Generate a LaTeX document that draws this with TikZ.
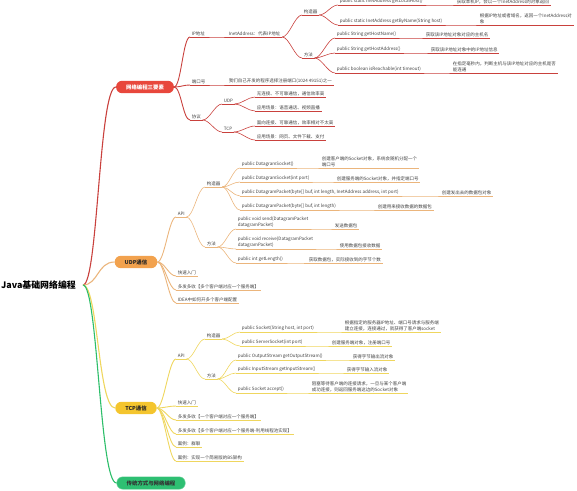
\documentclass[tikz,border=0pt]{standalone}
\usepackage{fontspec}
\setmainfont{Noto Sans CJK SC}
\definecolor{rd}{HTML}{E8473C}
\definecolor{rdl}{HTML}{C9413D}
\definecolor{og}{HTML}{F2A24E}
\definecolor{ogl}{HTML}{EBB57C}
\definecolor{yw}{HTML}{F4C52E}
\definecolor{ywl}{HTML}{EFD65E}
\definecolor{gn}{HTML}{2EBF72}
\definecolor{gnl}{HTML}{2DBE6A}
\tikzset{
  br/.style={to path={.. controls +(7,0) and +(-7,0) .. (\tikztotarget)}},
  main/.style={rounded corners=6pt,inner xsep=10pt,inner ysep=3.6pt,font=\fontsize{5.4}{6}\selectfont\bfseries},
  lf/.style={anchor=south west,inner xsep=1.6pt,inner ysep=1.2pt,align=left,font=\fontsize{4.5}{5.6}\selectfont,text=black!75},
  ur/.style={lf,append after command={(\tikzlastnode.south west) edge[rl] (\tikzlastnode.south east)}},
  uo/.style={lf,append after command={(\tikzlastnode.south west) edge[ol] (\tikzlastnode.south east)}},
  uy/.style={lf,append after command={(\tikzlastnode.south west) edge[yl] (\tikzlastnode.south east)}},
  rl/.style={draw=rdl,line width=.6pt},
  ol/.style={draw=ogl,line width=.6pt},
  yl/.style={draw=ywl,line width=.6pt},
}
\begin{document}
\begin{tikzpicture}[x=1pt,y=-1pt]
\useasboundingbox (0,0) rectangle (577,490);
\node[anchor=east,inner xsep=7pt,font=\fontsize{8.9}{10}\selectfont\bfseries] (root) at (83,285) {Java基础网络编程};
\node[main,fill=rd,text=white] (n1) at (145,87) {网络编程三要素};
\node[main,fill=og,text=black!85] (n2) at (136,262) {UDP通信};
\node[main,fill=yw,text=black!85] (n3) at (136,408) {TCP通信};
\node[main,fill=gn,draw=gn!60,text=black!80] (n4) at (151,483) {传统方式与网络编程};
\draw[rdl,line width=1.1pt] (root.east) .. controls +(15,0) and +(-17,0) .. (n1.west);
\draw[ogl,line width=1.1pt] (root.east) .. controls +(15,0) and +(-17,0) .. (n2.west);
\draw[ywl,line width=1.1pt] (root.east) .. controls +(15,0) and +(-17,0) .. (n3.west);
\draw[gnl,line width=1.1pt] (root.east) .. controls +(15,0) and +(-17,0) .. (n4.west);

\node[ur] (ip) at (190,37) {IP地址};
\node[ur] (inet) at (227,37) {InetAddress：代表IP地址};
\node[ur] (gz1) at (302,15) {构造器};
\node[ur] (ff1) at (302,58) {方法};
\node[ur] (m1) at (338,5) {public static InetAddress getLocalHost()};
\node[ur] (d1) at (455,5) {获取本机IP，会以一个InetAddress的对象返回};
\node[ur] (m2) at (338,25) {public static InetAddress getByName(String host)};
\node[ur] (d2) at (478,25) {根据IP地址或者域名，返回一个InetAddress对\\象};
\node[ur] (m3) at (335,38) {public String getHostName()};
\node[ur] (d3) at (424,38) {获取该IP地址对象对应的主机名};
\node[ur] (m4) at (335,53) {public String getHostAddress()};
\node[ur] (d4) at (429,53) {获取该IP地址对象中的IP地址信息};
\node[ur] (m5) at (335,73) {public boolean isReachable(int timeout)};
\node[ur] (d5) at (451,73) {在指定毫秒内，判断主机与该IP地址对应的主机是否\\能连通};
\node[ur] (dk) at (190,85) {端口号};
\node[ur] (dkd) at (227,85) {我们自己开发的程序选择注册端口(1024~49151)之一};
\node[ur] (xy) at (190,120) {协议};
\node[ur] (udp) at (222,104) {UDP};
\node[ur] (tcp) at (222,132) {TCP};
\node[ur] (u1) at (255,97) {无连接、不可靠通信，通信效率高};
\node[ur] (u2) at (255,111) {应用场景：语音通话、视频直播};
\node[ur] (t1) at (255,126) {面向连接、可靠通信，效率相对不太高};
\node[ur] (t2) at (255,140) {应用场景：网页、文件下载、支付};
\draw[rdl,line width=.9pt] (n1.east) to[br] (ip.south west);
\draw[rdl,line width=.9pt] (n1.east) to[br] (dk.south west);
\draw[rdl,line width=.9pt] (n1.east) to[br] (xy.south west);
\draw[rl] (ip.south east) to[br] (inet.south west);
\draw[rl] (inet.south east) to[br] (gz1.south west);
\draw[rl] (inet.south east) to[br] (ff1.south west);
\draw[rl] (gz1.south east) to[br] (m1.south west);
\draw[rl] (gz1.south east) to[br] (m2.south west);
\draw[rl] (ff1.south east) to[br] (m3.south west);
\draw[rl] (ff1.south east) to[br] (m4.south west);
\draw[rl] (ff1.south east) to[br] (m5.south west);
\draw[rl] (m1.south east) to[br] (d1.south west);
\draw[rl] (m2.south east) to[br] (d2.south west);
\draw[rl] (m3.south east) to[br] (d3.south west);
\draw[rl] (m4.south east) to[br] (d4.south west);
\draw[rl] (m5.south east) to[br] (d5.south west);
\draw[rl] (dk.south east) to[br] (dkd.south west);
\draw[rl] (xy.south east) to[br] (udp.south west);
\draw[rl] (xy.south east) to[br] (tcp.south west);
\draw[rl] (udp.south east) to[br] (u1.south west);
\draw[rl] (udp.south east) to[br] (u2.south west);
\draw[rl] (tcp.south east) to[br] (t1.south west);
\draw[rl] (tcp.south east) to[br] (t2.south west);

\node[uo] (api2) at (176,217) {API};
\node[uo] (gz2) at (205,187) {构造器};
\node[uo] (ff2) at (205,247) {方法};
\node[uo] (p1) at (240,168) {public DatagramSocket()};
\node[uo] (q1) at (320,168) {创建客户端的Socket对象，系统会随机分配一个\\端口号};
\node[uo] (p2) at (240,182) {public DatagramSocket(int port)};
\node[uo] (q2) at (335,182) {创建服务端的Socket对象，并指定端口号};
\node[uo] (p3) at (240,196) {public DatagramPacket(byte[] buf, int length, InetAddress address, int port)};
\node[uo] (q3) at (440,196) {创建发出去的数据包对象};
\node[uo] (p4) at (240,210) {public DatagramPacket(byte[] buf, int length)};
\node[uo] (q4) at (376,210) {创建用来接收数据的数据包};
\node[uo] (p5) at (236,229) {public void send(DatagramPacket\\datagramPacket)};
\node[uo] (q5) at (333,229) {发送数据包};
\node[uo] (p6) at (236,249) {public void receive(DatagramPacket\\datagramPacket)};
\node[uo] (q6) at (338,249) {使用数据包接收数据};
\node[uo] (p7) at (236,263) {public int getLength()};
\node[uo] (q7) at (307,263) {获取数据包，实际接收到的字节个数};
\node[uo] (ka) at (176,276) {快速入门};
\node[uo] (kb) at (176,290) {多发多收【多个客户端对应一个服务端】};
\node[uo] (kc) at (176,303) {IDEA中如何开多个客户端配置};
\draw[ogl,line width=.9pt] (n2.east) to[br] (api2.south west);
\draw[ogl,line width=.9pt] (n2.east) to[br] (ka.south west);
\draw[ogl,line width=.9pt] (n2.east) to[br] (kb.south west);
\draw[ogl,line width=.9pt] (n2.east) to[br] (kc.south west);
\draw[ol] (api2.south east) to[br] (gz2.south west);
\draw[ol] (api2.south east) to[br] (ff2.south west);
\draw[ol] (gz2.south east) to[br] (p1.south west);
\draw[ol] (gz2.south east) to[br] (p2.south west);
\draw[ol] (gz2.south east) to[br] (p3.south west);
\draw[ol] (gz2.south east) to[br] (p4.south west);
\draw[ol] (ff2.south east) to[br] (p5.south west);
\draw[ol] (ff2.south east) to[br] (p6.south west);
\draw[ol] (ff2.south east) to[br] (p7.south west);
\draw[ol] (p1.south east) to[br] (q1.south west);
\draw[ol] (p2.south east) to[br] (q2.south west);
\draw[ol] (p3.south east) to[br] (q3.south west);
\draw[ol] (p4.south east) to[br] (q4.south west);
\draw[ol] (p5.south east) to[br] (q5.south west);
\draw[ol] (p6.south east) to[br] (q6.south west);
\draw[ol] (p7.south east) to[br] (q7.south west);

\node[uy] (api3) at (176,359) {API};
\node[uy] (gz3) at (205,339) {构造器};
\node[uy] (ff3) at (205,379) {方法};
\node[uy] (s1) at (240,332) {public Socket(String host, int port)};
\node[uy] (r1) at (343,332) {根据指定的服务器IP地址、端口号请求与服务端\\建立连接，连接通过，就获得了客户端socket};
\node[uy] (s2) at (240,346) {public ServerSocket(int port)};
\node[uy] (r2) at (330,346) {创建服务端对象，注册端口号};
\node[uy] (s3) at (236,360) {public OutputStream getOutputStream()};
\node[uy] (r3) at (351,360) {获得字节输出流对象};
\node[uy] (s4) at (236,373) {public InputStream getInputStream()};
\node[uy] (r4) at (345,373) {获得字节输入流对象};
\node[uy] (s5) at (236,393) {public Socket accept()};
\node[uy] (r5) at (310,393) {阻塞等待客户端的连接请求，一旦与某个客户端\\成功连接，则返回服务端这边的Socket对象};
\node[uy] (ta) at (176,406) {快速入门};
\node[uy] (tb) at (176,420) {多发多收【一个客户端对应一个服务端】};
\node[uy] (tc) at (176,434) {多发多收【多个客户端对应一个服务端-利用线程池实现】};
\node[uy] (td) at (176,447) {案例：群聊};
\node[uy] (te) at (176,461) {案例：实现一个简易版的BS架构};
\draw[ywl,line width=.9pt] (n3.east) to[br] (api3.south west);
\draw[ywl,line width=.9pt] (n3.east) to[br] (ta.south west);
\draw[ywl,line width=.9pt] (n3.east) to[br] (tb.south west);
\draw[ywl,line width=.9pt] (n3.east) to[br] (tc.south west);
\draw[ywl,line width=.9pt] (n3.east) to[br] (td.south west);
\draw[ywl,line width=.9pt] (n3.east) to[br] (te.south west);
\draw[yl] (api3.south east) to[br] (gz3.south west);
\draw[yl] (api3.south east) to[br] (ff3.south west);
\draw[yl] (gz3.south east) to[br] (s1.south west);
\draw[yl] (gz3.south east) to[br] (s2.south west);
\draw[yl] (ff3.south east) to[br] (s3.south west);
\draw[yl] (ff3.south east) to[br] (s4.south west);
\draw[yl] (ff3.south east) to[br] (s5.south west);
\draw[yl] (s1.south east) to[br] (r1.south west);
\draw[yl] (s2.south east) to[br] (r2.south west);
\draw[yl] (s3.south east) to[br] (r3.south west);
\draw[yl] (s4.south east) to[br] (r4.south west);
\draw[yl] (s5.south east) to[br] (r5.south west);
\end{tikzpicture}
\end{document}
